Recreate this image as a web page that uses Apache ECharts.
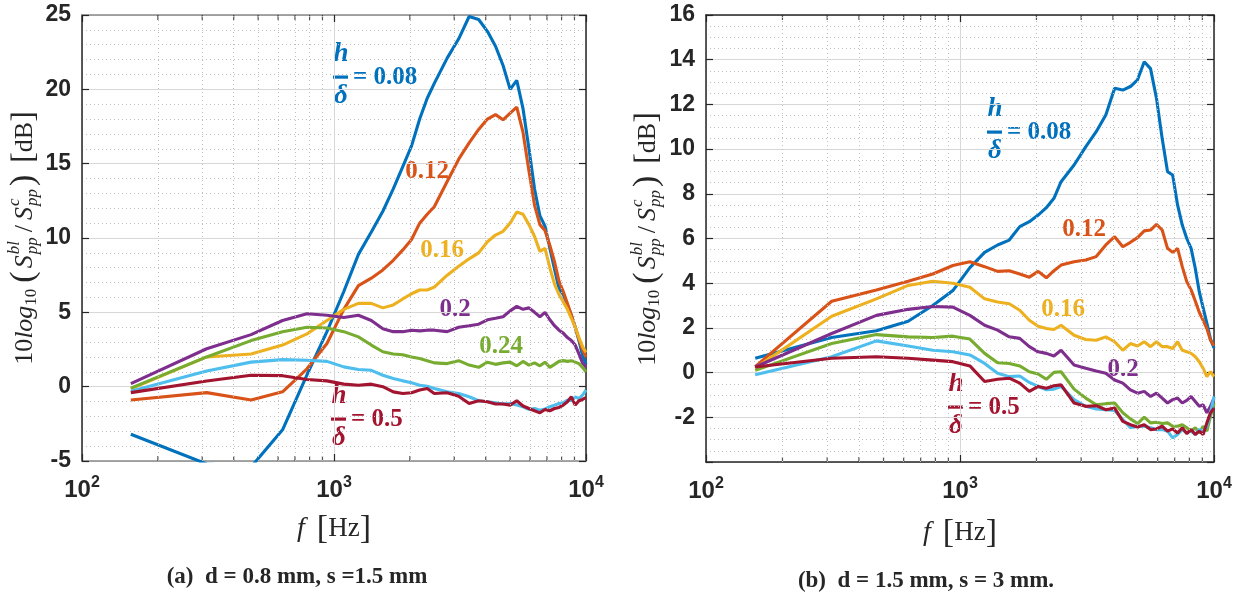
<!DOCTYPE html>
<html>
<head>
<meta charset="utf-8">
<script src="https://cdn.jsdelivr.net/npm/echarts@6/dist/echarts.min.js"></script>
<style>
  html, body { margin: 0; background: #fff; }
  #main { width: 1242px; height: 597px; }
</style>
</head>
<body>
<div id="main"></div>
<script>
// narrowband bins, df = 156.25 Hz
var freq = [156.25, 312.5, 468.75, 625, 781.25, 937.5, 1093.75, 1250, 1406.25, 1562.5,
  1718.75, 1875, 2031.25, 2187.5, 2343.75, 2500, 2812.5, 3125, 3437.5, 3750,
  4062.5, 4375, 4687.5, 5000, 5312.5, 5625, 5937.5, 6250, 6562.5, 6875,
  7187.5, 7500, 7812.5, 8125, 8437.5, 8750, 9062.5, 9375, 9687.5, 10000];

// (a) d = 0.8 mm, s = 1.5 mm
var a008 = [-3.2, -5.2, -5.4, -2.9, 0.8, 3.7, 6.4, 8.9, 10.4, 11.8, 13.3, 14.8, 16.2, 18.0, 19.4, 20.4,
  22.1, 23.4, 24.9, 24.7, 23.9, 22.9, 21.6, 20.0, 20.6, 18.7, 16.0, 13.3, 11.5, 10.8, 9.3, 7.9, 6.6, 6.2, 5.5, 4.8, 4.0, 3.1, 2.1, 1.5];
var a012 = [-0.9, -0.4, -0.9, -0.35, 1.2, 2.9, 5.2, 6.8, 7.3, 7.85, 8.5, 9.2, 9.9, 11.0, 11.6, 12.1,
  13.8, 15.3, 16.4, 17.3, 18.0, 18.3, 17.95, 18.4, 18.8, 17.1, 14.5, 12.2, 10.9, 10.5, 9.5, 8.4, 7.1, 6.4, 5.6, 4.8, 4.0, 3.2, 2.5, 2.0];
var a016 = [-0.15, 2.0, 2.2, 2.8, 3.55, 4.45, 5.2, 5.6, 5.6, 5.3, 5.5, 5.9, 6.25, 6.5, 6.5, 6.7,
  7.5, 8.1, 8.6, 9.0, 9.75, 10.2, 10.45, 11.0, 11.75, 11.6, 10.9, 10.1, 9.1, 9.3, 8.0, 6.9, 6.2, 5.7, 5.2, 4.6, 4.0, 3.3, 2.7, 2.3];
var a020 = [0.2, 2.55, 3.5, 4.45, 4.9, 4.8, 4.65, 4.8, 4.45, 3.9, 3.7, 3.7, 3.8, 3.75, 3.8, 3.8,
  3.7, 4.0, 4.1, 4.2, 4.5, 4.6, 4.7, 5.1, 5.4, 5.2, 5.3, 5.0, 4.7, 5.0, 4.5, 4.1, 3.8, 3.6, 3.3, 3.1, 2.8, 2.2, 1.6, 1.3];
var a024 = [-0.1, 2.0, 3.1, 3.7, 4.0, 3.95, 3.7, 3.35, 2.8, 2.35, 2.2, 2.15, 2.0, 1.9, 1.75, 1.6,
  1.55, 1.75, 1.45, 1.3, 1.65, 1.5, 1.6, 1.65, 1.4, 1.7, 1.45, 1.6, 1.4, 1.65, 1.3, 1.5, 1.7, 1.75, 1.7, 1.75, 1.65, 1.55, 1.3, 1.0];
var a030 = [-0.3, 1.05, 1.65, 1.82, 1.78, 1.7, 1.33, 1.15, 1.1, 0.77, 0.55, 0.39, 0.26, 0.1, 0.03, -0.12,
  -0.35, -0.46, -0.68, -0.95, -1.02, -1.08, -1.17, -1.13, -1.24, -1.35, -1.53, -1.47, -1.58, -1.5, -1.35, -1.24, -1.13, -1.08, -0.9, -0.95, -0.68, -0.8, -0.57, -0.23];
var a050 = [-0.4, 0.38, 0.77, 0.74, 0.48, 0.39, 0.17, 0.1, 0.17, 0.0, -0.35, -0.46, -0.41, -0.23, -0.12, -0.46,
  -0.41, -0.64, -1.13, -0.95, -1.02, -1.17, -1.17, -1.24, -0.95, -1.3, -1.47, -1.62, -1.76, -1.53, -1.62, -1.47, -1.4, -1.24, -1.02, -0.68, -1.24, -0.95, -0.86, -0.73];

// (b) d = 1.5 mm, s = 3 mm
var b008 = [0.64, 1.57, 1.87, 2.3, 3.0, 3.67, 4.7, 5.38, 5.71, 5.93, 6.53, 6.75, 7.05, 7.38, 7.8, 8.54,
  9.29, 10.1, 10.78, 11.53, 12.72, 12.64, 12.8, 13.1, 13.91, 13.6, 12.27, 10.48, 8.99, 8.84, 7.5, 6.6, 6.0, 5.56, 4.67, 3.62, 2.9, 2.2, 1.5, 1.1];
var b012 = [0.27, 3.19, 3.7, 4.09, 4.41, 4.79, 4.96, 4.74, 4.53, 4.56, 4.41, 4.27, 4.53, 4.24, 4.56, 4.81,
  4.96, 5.04, 5.19, 5.71, 6.08, 5.63, 5.83, 6.04, 6.34, 6.38, 6.63, 6.38, 5.56, 5.38, 5.56, 4.74, 4.07, 3.7, 3.2, 2.7, 2.34, 1.97, 1.45, 1.2];
var b016 = [0.2, 2.52, 3.3, 3.9, 4.09, 4.0, 3.82, 3.3, 3.16, 3.08, 2.79, 2.34, 2.07, 1.97, 1.93, 2.12,
  1.67, 1.48, 1.45, 1.6, 1.38, 1.0, 1.3, 1.19, 1.38, 1.16, 1.38, 1.16, 1.16, 1.08, 1.38, 1.0, 0.93, 0.86, 0.71, 0.49, 0.19, -0.18, 0.04, -0.18];
var b020 = [0.25, 1.75, 2.56, 2.83, 2.96, 2.93, 2.56, 2.12, 1.9, 1.6, 1.53, 1.16, 0.93, 0.86, 0.74, 1.0,
  0.34, 0.19, 0.07, -0.03, -0.33, -0.47, -0.77, -0.92, -0.84, -1.07, -0.92, -1.14, -1.36, -1.21, -1.14, -1.36, -1.24, -1.07, -1.29, -1.51, -1.44, -1.8, -1.51, -1.14];
var b024 = [0.1, 1.3, 1.7, 1.6, 1.57, 1.63, 1.5, 0.86, 0.44, 0.41, 0.3, 0.04, -0.06, -0.3, 0.01, 0.04,
  -0.74, -1.14, -1.44, -1.39, -1.36, -1.8, -2.07, -2.28, -1.99, -2.25, -2.22, -2.28, -2.25, -2.4, -2.4, -2.33, -2.47, -2.62, -2.47, -2.7, -2.4, -2.62, -1.96, -1.36];
var b030 = [-0.1, 0.71, 1.42, 1.19, 1.0, 0.93, 0.79, 0.41, -0.03, -0.18, -0.15, -0.44, -0.62, -0.77, -0.74, -0.62,
  -1.21, -1.51, -1.63, -1.66, -1.69, -2.1, -2.47, -2.4, -2.4, -2.47, -2.55, -2.55, -2.62, -2.92, -2.77, -2.55, -2.7, -2.62, -2.77, -2.55, -2.62, -2.4, -1.8, -1.07];
var b050 = [0.25, 0.64, 0.71, 0.64, 0.56, 0.49, 0.3, -0.4, -0.3, -0.25, -0.47, -0.84, -0.62, -0.7, -0.59, -0.55,
  -1.36, -1.51, -1.48, -1.66, -1.59, -2.18, -2.33, -2.43, -2.33, -2.55, -2.52, -2.4, -2.62, -2.52, -2.7, -2.47, -2.73, -2.55, -2.77, -2.62, -2.77, -2.25, -1.8, -1.59];

var minorFreq = [200, 300, 400, 500, 600, 700, 800, 900, 2000, 3000, 4000, 5000, 6000, 7000, 8000, 9000];
var yTicksA = { min: -5, max: 25, step: 5, minor: 5 };
var yTicksB = { min: -4, max: 16, step: 2, minor: 4 };

var INK = '#262626';
var SANS = '"Liberation Sans", Arial, Helvetica, sans-serif';
var SERIF = '"Liberation Serif", "Times New Roman", serif';
var colors = ['#0072BD', '#D95319', '#EDB120', '#7E2F8E', '#77AC30', '#4DBEEE', '#A2142F'];

var chart = echarts.init(document.getElementById('main'));

function xAxisOf(gi, onTop, lineColor) {
  return {
    type: 'log', logBase: 10, gridIndex: gi, min: 100, max: 10000,
    position: onTop ? 'top' : 'bottom',
    axisLine: { show: true, onZero: false, lineStyle: { color: lineColor, width: 1.5 } },
    axisTick: { show: true, inside: true, length: 7, lineStyle: { color: INK, width: 1.2 } },
    axisLabel: onTop ? { show: false } : {
      margin: 14,
      formatter: function (v) { return '{b|10}{s|' + Math.round(Math.log10(v)) + '}'; },
      rich: {
        b: { fontFamily: SANS, fontWeight: 'bold', fontSize: 24, color: INK },
        s: { fontFamily: SANS, fontWeight: 'bold', fontSize: 16, color: INK, padding: [0, 0, 14, 0] }
      }
    },
    splitLine: { show: !onTop, lineStyle: { color: '#d8d8d8', width: 1 } }
  };
}

function yAxisOf(gi, onRight, t) {
  return {
    type: 'value', gridIndex: gi, min: t.min, max: t.max, interval: t.step,
    position: onRight ? 'right' : 'left',
    axisLine: { show: true, onZero: false, lineStyle: { color: INK, width: 1.5 } },
    axisTick: { show: true, inside: true, length: 7, lineStyle: { color: INK, width: 1.2 } },
    minorTick: { show: false, splitNumber: t.minor },
    minorSplitLine: { show: !onRight, lineStyle: { color: '#c0c0c0', width: 1, type: [1, 3] } },
    splitLine: { show: !onRight, lineStyle: { color: '#d8d8d8', width: 1 } },
    axisLabel: onRight ? { show: false } : {
      margin: 11, fontFamily: SANS, fontWeight: 'bold', fontSize: 23, color: INK,
      formatter: function (v) { return (t.min === -4 && v === -4) ? '' : String(v); }
    }
  };
}

function curves(xi, list) {
  return list.map(function (vals, i) {
    return {
      type: 'line', xAxisIndex: xi, yAxisIndex: xi, showSymbol: false, symbol: 'none',
      clip: true, z: 3,
      lineStyle: { color: colors[i], width: 3.1 }, itemStyle: { color: colors[i] },
      data: freq.map(function (f, j) { return [f, vals[j]]; })
    };
  });
}

function minorMarks(xi, t) {
  var tick = { type: 'scatter', xAxisIndex: xi, yAxisIndex: xi, symbol: 'rect', symbolSize: [1.2, 5],
    itemStyle: { color: INK }, silent: true, z: 1 };
  return [
    Object.assign({}, tick, {
      symbolOffset: [0, -2.5], data: minorFreq.map(function (f) { return [f, t.min]; }),
      markLine: { silent: true, symbol: 'none', label: { show: false },
        lineStyle: { type: [1, 3], color: '#c0c0c0', width: 1 },
        data: minorFreq.map(function (f) { return { xAxis: f }; }) }
    }),
    Object.assign({}, tick, {
      symbolOffset: [0, 2.5], data: minorFreq.map(function (f) { return [f, t.max]; })
    })
  ];
}

// text layout helpers for the math-style titles
var ctx = document.createElement('canvas').getContext('2d');
function fontOf(p) {
  return (p.i ? 'italic ' : '') + (p.b ? 'bold ' : '') + p.s + 'px ' + SERIF;
}
function mathGroup(parts, cx, cy, rot) {
  var x = 0, start = 0, kids = [];
  parts.forEach(function (p) {
    if (p.gap) { x += p.gap; return; }
    var font = fontOf(p);
    ctx.font = font;
    var w = ctx.measureText(p.t).width;
    var x0 = p.stack ? start : x;
    kids.push({ type: 'text', x: x0, y: p.dy || 0,
      style: { text: p.t, font: font, fill: INK, textAlign: 'left', align: 'left',
        textVerticalAlign: 'middle', verticalAlign: 'middle' } });
    if (p.stack) { x = Math.max(x, x0 + w); } else { start = x; x += w; }
  });
  kids.forEach(function (k) { k.x -= x / 2; });
  return { type: 'group', x: cx, y: cy, rotation: rot || 0, silent: true, children: kids };
}

var yTitle = [
  { t: '10', s: 26 }, { t: 'log', s: 26, i: true }, { t: '10', s: 17, dy: 7 }, { gap: 6 },
  { t: '(', s: 34, dy: -1 }, { gap: 3 },
  { t: 'S', s: 26, i: true }, { gap: 1 }, { t: 'bl', s: 17, i: true, dy: -10 }, { t: 'pp', s: 17, i: true, dy: 8, stack: true },
  { gap: 5 }, { t: '/', s: 26 }, { gap: 5 },
  { t: 'S', s: 26, i: true }, { gap: 1 }, { t: 'c', s: 17, i: true, dy: -10 }, { t: 'pp', s: 17, i: true, dy: 8, stack: true },
  { gap: 3 }, { t: ')', s: 34, dy: -1 }, { gap: 12 },
  { t: '[', s: 32 }, { t: 'dB', s: 26 }, { t: ']', s: 32 }
];
var xTitle = [
  { t: 'f', s: 28, i: true }, { gap: 12 }, { t: '[', s: 34 }, { t: 'Hz', s: 27 }, { t: ']', s: 34 }
];

function valueTag(txt, color, cx, cy) {
  return { type: 'text', x: cx, y: cy, silent: true,
    style: { text: txt, font: 'bold 25px ' + SERIF, fill: color, textAlign: 'center', align: 'center',
      textVerticalAlign: 'middle', verticalAlign: 'middle' } };
}
function fracTag(txt, color, hx, barY) {
  var it = 'italic bold 27px ' + SERIF;
  return { type: 'group', silent: true, children: [
    { type: 'text', x: hx, y: barY - 23, style: { text: 'h', font: it, fill: color, textAlign: 'center', align: 'center', textVerticalAlign: 'middle', verticalAlign: 'middle' } },
    { type: 'rect', shape: { x: hx - 8, y: barY - 1.5, width: 15, height: 3.2 }, style: { fill: color } },
    { type: 'text', x: hx, y: barY + 19, style: { text: 'δ', font: it, fill: color, textAlign: 'center', align: 'center', textVerticalAlign: 'middle', verticalAlign: 'middle' } },
    { type: 'text', x: hx + 12, y: barY + 1, style: { text: '= ' + txt, font: 'bold 25px ' + SERIF, fill: color, textAlign: 'left', align: 'left', textVerticalAlign: 'middle', verticalAlign: 'middle' } }
  ] };
}
function caption(txt, cx, cy) {
  return { type: 'text', x: cx, y: cy, silent: true,
    style: { text: txt, font: 'bold 23px ' + SERIF, fill: INK, textAlign: 'center', align: 'center',
      textVerticalAlign: 'middle', verticalAlign: 'middle' } };
}

var option = {
  animation: false,
  backgroundColor: '#fff',
  grid: [
    { left: 82, top: 15, width: 504, height: 446 },
    { left: 706, top: 15, width: 508, height: 447 }
  ],
  xAxis: [
    xAxisOf(0, false, '#8a8a8a'), xAxisOf(0, true, '#8a8a8a'),
    xAxisOf(1, false, INK), xAxisOf(1, true, INK)
  ],
  yAxis: [
    yAxisOf(0, false, yTicksA), yAxisOf(0, true, yTicksA),
    yAxisOf(1, false, yTicksB), yAxisOf(1, true, yTicksB)
  ],
  series: [].concat(
    minorMarks(0, yTicksA),
    minorMarks(2, yTicksB),
    curves(0, [a008, a012, a016, a020, a024, a030, a050]),
    curves(2, [b008, b012, b016, b020, b024, b030, b050])
  ),
  graphic: [
    mathGroup(yTitle, 25, 238, Math.PI / 2),
    mathGroup(yTitle, 648, 239, Math.PI / 2),
    mathGroup(xTitle, 334, 529),
    mathGroup(xTitle, 960, 533),
    caption('(a)  d = 0.8 mm, s =1.5 mm', 297, 577),
    caption('(b)  d = 1.5 mm, s = 3 mm.', 926, 581),
    fracTag('0.08', colors[0], 341, 77),
    valueTag('0.12', colors[1], 427, 172),
    valueTag('0.16', colors[2], 442, 251),
    valueTag('0.2', colors[3], 455, 310),
    valueTag('0.24', colors[4], 501, 347),
    fracTag('0.5', colors[6], 339, 419),
    fracTag('0.08', colors[0], 995, 132),
    valueTag('0.12', colors[1], 1084, 230),
    valueTag('0.16', colors[2], 1063, 310),
    valueTag('0.2', colors[3], 1123, 370),
    fracTag('0.5', colors[6], 956, 407)
  ]
};
chart.setOption(option);
</script>
</body>
</html>
